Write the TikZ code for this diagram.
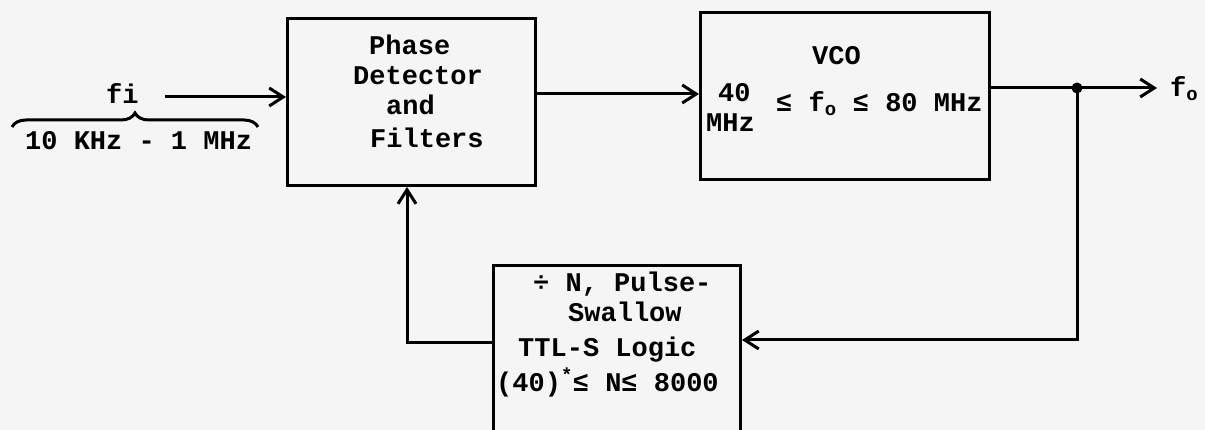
\documentclass[tikz,border=0pt]{standalone}
\usepackage{fontspec}
\newfontfamily\tw{Liberation Mono}
\usetikzlibrary{arrows.meta,decorations.pathreplacing}
\begin{document}
\begin{tikzpicture}[x=1pt,y=-1pt,
  blk/.style={draw, line width=3pt, inner sep=0pt, anchor=north west},
  txt/.style={inner sep=0pt, anchor=base west, font=\tw\bfseries\fontsize{27}{30}\selectfont},
  wire/.style={line width=3pt},
  arr/.style={line width=3pt, -{Straight Barb[length=14pt,width=18pt]}}]
\fill[black!4] (0,0) rectangle (1205,430);
\useasboundingbox (0,0) rectangle (1205,430);
% blocks
\node[blk, minimum width=248pt, minimum height=167pt] (pd) at (286,17) {};
\node[blk, minimum width=289pt, minimum height=167pt] (vco) at (699,11) {};
\node[blk, minimum width=247pt, minimum height=170pt] (div) at (492,264) {};
% phase detector text
\node[txt] (pd1) at (369,55) {Phase};
\node[txt] (pd2) at (353,85) {Detector};
\node[txt] (pd3) at (386,115) {and};
\node[txt] (pd4) at (370,148) {Filters};
% vco text
\node[txt] (v1) at (812,65) {VCO};
\node[txt] (v2) at (718,102) {40};
\node[txt] (v3) at (706,132) {MHz};
\node[txt] (v4) at (776,112) {≤ f\textsubscript{o} ≤ 80 MHz};
% divider text
\node[txt] (d1) at (533,292) {÷ N, Pulse-};
\node[txt] (d2) at (568,322) {Swallow};
\node[txt] (d3) at (518,356) {TTL-S Logic};
\node[txt] (d4) at (496,391) {(40)\textsuperscript{*}≤ N≤ 8000};
% input
\node[txt] (fi) at (106,104) {fi};
\node[txt] (rng) at (25,150) {10 KHz - 1 MHz};
\coordinate (br1) at (12,127);
\coordinate (br2) at (258,127);
\draw[wire, decorate, decoration={brace, amplitude=14pt}] (br1) -- (br2);
\coordinate (fis) at (165,97);
\draw[arr] (fis) -- (fis -| pd.west);
% pd -> vco
\coordinate (m) at (600,94);
\draw[arr] (m -| pd.east) -- (m -| vco.west);
% output
\coordinate (j) at (1077,88);
\coordinate (out) at (1157,88);
\draw[wire] (j -| vco.east) -- (j);
\draw[arr] (j) -- (out);
\fill (j) circle (5.5);
\node[txt] (fo) at (1170,97) {f\textsubscript{o}};
% feedback
\coordinate (fbr) at (1077,340);
\draw[arr] (j) -- (fbr) -- (fbr -| div.east);
\coordinate (fbl) at (407,343);
\draw[arr] (fbl -| div.west) -- (fbl) -- (fbl |- pd.south);
\end{tikzpicture}
\end{document}
